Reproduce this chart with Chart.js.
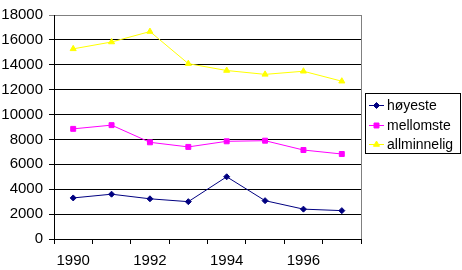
<!DOCTYPE html>
<html>
<head>
<meta charset="utf-8">
<script src="https://cdn.jsdelivr.net/npm/chart.js@4/dist/chart.umd.min.js"></script>
<style>
  html, body { margin: 0; padding: 0; background: #fff; }
  #wrap { width: 462px; height: 270px; position: relative; }
</style>
</head>
<body>
<div id="wrap"><canvas id="chart" width="462" height="270"></canvas></div>
<script>
// Years on the category axis
const years = ['1990', '1991', '1992', '1993', '1994', '1995', '1996', '1997'];

// Series values
const hoyeste = [3300, 3600, 3230, 3000, 5000, 3080, 2400, 2280];
const mellomste = [8850, 9150, 7770, 7400, 7850, 7900, 7150, 6830];
const allminnelig = [15280, 15830, 16670, 14090, 13540, 13230, 13480, 12680];

// Y axis range
const yMin = 0;
const yMax = 18000;
const yStep = 2000;

const fontFamily = '"Liberation Sans", Arial, sans-serif';

// Legend box and plot border, drawn the Excel way
const excelLook = {
    id: 'excelLook',
    afterDraw(chart) {
        const ctx = chart.ctx;
        const area = chart.chartArea;
        ctx.save();
        // right border of plot area
        ctx.strokeStyle = '#808080';
        ctx.lineWidth = 1;
        ctx.beginPath();
        ctx.moveTo(Math.round(area.right) + 0.5, area.top);
        ctx.lineTo(Math.round(area.right) + 0.5, area.bottom);
        ctx.stroke();

        // legend
        const bx = 365.5, by = 93.5, bw = 95, bh = 60;
        ctx.strokeStyle = '#000';
        ctx.strokeRect(bx, by, bw, bh);
        ctx.font = '14px ' + fontFamily;
        ctx.textBaseline = 'middle';
        chart.data.datasets.forEach((ds, i) => {
            const y = Math.round(105 + i * 19.5) + 0.5;
            ctx.strokeStyle = ds.borderColor;
            ctx.fillStyle = ds.backgroundColor;
            ctx.lineWidth = 1;
            ctx.beginPath();
            ctx.moveTo(369, y);
            ctx.lineTo(384, y);
            ctx.stroke();
            Chart.helpers.drawPoint(ctx, {
                pointStyle: ds.pointStyle,
                radius: ds.pointRadius,
                rotation: 0,
                borderWidth: 1
            }, 376.5, y);
            ctx.fillStyle = '#000';
            ctx.fillText(ds.label, 387, y + 0.5);
        });
        ctx.restore();
    }
};

const ctx = document.getElementById('chart').getContext('2d');
new Chart(ctx, {
    type: 'line',
    data: {
        labels: years,
        datasets: [
            {
                label: 'høyeste', data: hoyeste,
                borderColor: '#000080', backgroundColor: '#000080',
                pointStyle: 'rectRot', pointRadius: 3, borderWidth: 1
            },
            {
                label: 'mellomste', data: mellomste,
                borderColor: '#FF00FF', backgroundColor: '#FF00FF',
                pointStyle: 'rect', pointRadius: 3.5, borderWidth: 1
            },
            {
                label: 'allminnelig', data: allminnelig,
                borderColor: '#FFFF00', backgroundColor: '#FFFF00',
                pointStyle: 'triangle', pointRadius: 3.5, borderWidth: 1
            }
        ]
    },
    options: {
        responsive: false,
        animation: false,
        layout: { padding: { top: 9, right: 101, left: 0, bottom: 0 } },
        elements: { line: { tension: 0 }, point: { borderWidth: 1, hoverRadius: 3 } },
        plugins: {
            legend: { display: false },
            tooltip: { enabled: false }
        },
        scales: {
            x: {
                offset: true,
                grid: {
                    offset: true,
                    drawOnChartArea: false,
                    drawTicks: true,
                    tickLength: 5,
                    color: '#000'
                },
                border: { color: '#000' },
                ticks: {
                    autoSkip: false,
                    maxRotation: 0,
                    padding: 8,
                    color: '#000',
                    font: { family: fontFamily, size: 15 },
                    callback: function (value, index) {
                        return index % 2 === 0 ? this.getLabelForValue(value) : '';
                    }
                },
                afterFit(scale) { scale.height = 31; }
            },
            y: {
                min: yMin,
                max: yMax,
                ticks: {
                    stepSize: yStep,
                    padding: 6,
                    color: '#000',
                    font: { family: fontFamily, size: 15 },
                    callback: (v) => String(v)
                },
                grid: {
                    tickLength: 5,
                    color: (c) => (c.tick && c.tick.value === yMax) ? '#808080' : '#000'
                },
                border: { color: '#000' },
                afterFit(scale) { scale.width = 54; }
            }
        }
    },
    plugins: [excelLook]
});
</script>
</body>
</html>
